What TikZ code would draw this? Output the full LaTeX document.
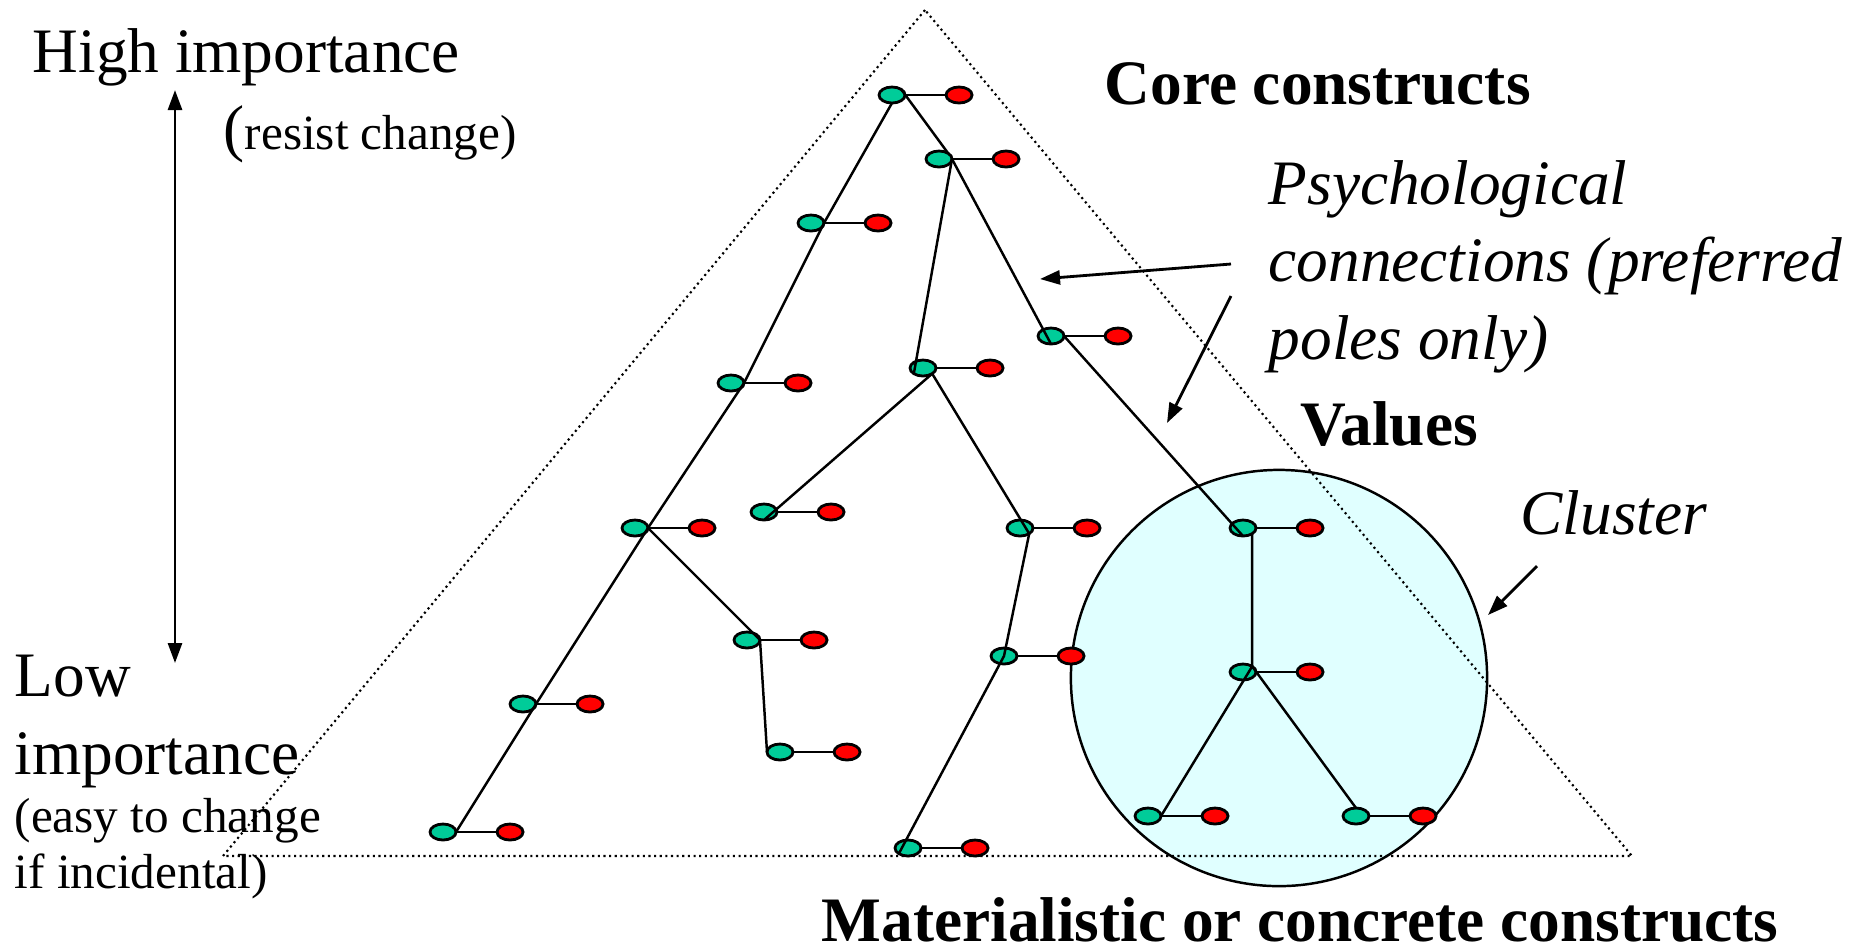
\documentclass[tikz,border=0pt]{standalone}
\usepackage{fontspec}
\setmainfont{Liberation Serif}
\usetikzlibrary{positioning, shapes.geometric, arrows.meta}
\definecolor{polegreen}{HTML}{00CC99}
\definecolor{polered}{HTML}{FF0000}
\definecolor{clusterfill}{HTML}{E0FFFF}

\begin{document}
\begin{tikzpicture}[x=0.01cm, y=-0.01cm,
    pole/.style={ellipse, draw, line width=0.8pt, minimum width=0.26cm, minimum height=0.16cm, inner sep=0pt, outer sep=0pt},
    lab/.style={font=\fontsize{18pt}{22pt}\selectfont, inner sep=0pt, anchor=base west},
    sml/.style={font=\fontsize{14pt}{17pt}\selectfont, inner sep=0pt, anchor=base west},
    link/.style={line width=0.7pt},
    >={Triangle[length=0.2cm, width=0.14cm]}]
  \useasboundingbox (0,0) rectangle (1872,950);
  \node[circle, draw, fill=clusterfill, line width=0.7pt, minimum size=4.16cm, inner sep=0pt] (cl) at (1279,678) {};
  \draw[densely dotted, line width=0.6pt] (925,10) -- (223,856) -- (1632,856) -- cycle;
  \foreach \n/\x/\y in {1/892/95, 2/939/159, 3/811/223, 4/1051/336, 5/731/383,
      6/923/368, 7/764/512, 8/635/528, 9/1020/528, 10/1243/528, 11/747/640,
      12/1004/656, 13/1243/672, 14/523/704, 15/780/752, 16/1148/816,
      17/1356/816, 18/443/832, 19/908/848}{
    \node[pole, fill=polegreen] (g\n) at (\x,\y) {};
    \node[pole, fill=polered, right=0.41cm of g\n] (r\n) {};
    \draw[line width=0.8pt] (g\n) -- (r\n);
  }
  \draw[link] (g1.north east) -- (g2.north east);
  \draw[link] (g1.south) -- (g3.east) -- (g5.east) -- (g8.east) -- (g14.east) -- (g18.east);
  \draw[link] (g8.east) -- (g11.east) -- (g15.west);
  \draw[link] (g2.east) -- (g6.south west);
  \draw[link] (g2.east) -- (g4.south);
  \draw[link] (g4.east) -- (g10.south);
  \draw[link] (g6.south east) -- (g7.south);
  \draw[link] (g6.south east) -- (g9.south east) -- (g12.center) -- (g19.south west);
  \draw[link] (g10.south east) -- (g13.north east) -- (g16.east);
  \draw[link] (g13.north east) -- (g17.north);

  \node[lab] (hi) at (32,72) {High importance};
  \node[lab] (resist) at (223,149) {(\fontsize{14pt}{17pt}\selectfont resist change)};
  \node[lab] (lo) at (14,696) {Low};
  \node[lab] (lo2) at (14,774) {importance};
  \node[sml] (easy) at (14,832) {(easy to change};
  \node[sml] (incid) at (14,888) {if incidental)};
  \coordinate (hiend) at (175,90);
  \coordinate (loend) at (175,663);
  \draw[<->, line width=0.8pt] (hiend) -- (loend);

  \node[lab, font=\fontsize{18pt}{22pt}\selectfont\bfseries] (core) at (1104,104) {Core constructs};
  \node[lab, font=\fontsize{18pt}{22pt}\selectfont\itshape, align=left] (psy) at (1268,359) {Psychological\\connections (preferred\\poles only)};
  \node[lab, font=\fontsize{18pt}{22pt}\selectfont\bfseries] (val) at (1300,445) {Values};
  \node[lab, font=\fontsize{18pt}{22pt}\selectfont\itshape] (clu) at (1520,534) {Cluster};
  \node[lab, font=\fontsize{18pt}{22pt}\selectfont\bfseries] (mat) at (821,941) {Materialistic or concrete constructs};
  \coordinate (pa) at (1231,264);
  \coordinate (pat) at (1040,279);
  \coordinate (pb) at (1231,296);
  \coordinate (pbt) at (1167,423);
  \coordinate (ca) at (1537,566);
  \coordinate (cat) at (1488,615);
  \draw[->, line width=0.8pt] (pa) -- (pat);
  \draw[->, line width=0.8pt] (pb) -- (pbt);
  \draw[->, line width=0.8pt] (ca) -- (cat);
\end{tikzpicture}
\end{document}
